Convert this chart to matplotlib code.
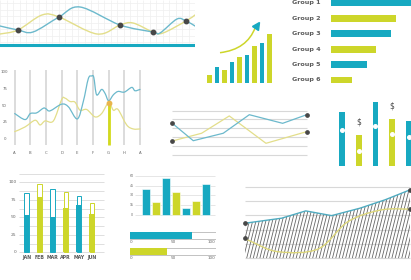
import numpy as np
import matplotlib
matplotlib.use("Agg")
import matplotlib.pyplot as plt
from matplotlib.path import Path
from matplotlib.patches import PathPatch
from matplotlib.collections import LineCollection
from matplotlib.markers import MarkerStyle
from matplotlib.transforms import Affine2D

plt.rcParams["font.family"] = ["DejaVu Sans"]

# ---------------- data ----------------
# wave strip (top left)
wave_x_teal = [0, 18, 33, 59, 80, 120, 153, 160, 177, 186, 195]
wave_teal = [22, 18, 16, 31, 41, 23, 16, 15, 29, 27, 22]
wave_x_lime = [0, 18, 42, 59, 97, 120, 133, 153, 163, 186, 195]
wave_lime = [14, 18, 33, 31, 14, 23, 25, 16, 15, 27, 33]
wave_cross_x = [18, 59, 120, 153, 186]
wave_cross_y = [18, 31, 23, 16, 27]

# growth bars
growth = [8, 16, 13, 21, 26, 28, 37, 40, 49]

# horizontal group bars
groups = ["Group 1", "Group 2", "Group 3", "Group 4", "Group 5", "Group 6"]
group_vals = [90, 65.3, 60.6, 45, 36.6, 21.3]

# smooth line chart A..A
letters = ["A", "B", "C", "D", "E", "F", "G", "H", "A"]
y_ticks4 = [0, 25, 50, 75, 100]
teal4_x = [0, 0.66, 1, 1.4, 1.83, 2, 2.26, 3, 3.43, 4, 4.38, 4.7, 4.91, 5.05,
           5.23, 5.55, 5.77, 6, 6.3, 6.6, 7, 7.47, 7.68, 8]
teal4_y = [38, 29, 38, 39, 46, 45, 42, 52, 48, 30, 56, 90, 94, 92,
           66, 74, 68, 57, 66, 71, 70, 77, 72, 74]
lime4_x = [0, 0.66, 1.3, 1.62, 1.94, 2.47, 3, 3.21, 3.53, 3.85, 4.17, 4.6,
           5.13, 5.55, 6, 6.3, 6.6, 7.15, 7.57, 8]
lime4_y = [11, 18, 28, 21, 27, 27, 59, 61, 56, 55, 43, 44,
           33, 38, 54, 43, 44, 21, 15, 15]
highlight_idx = 6

# straight line chart (middle)
teal5_x = [0, 0.156, 0.379, 0.573, 0.821, 1]
teal5_y = [3.57, 1.61, 2.45, 4.54, 3.57, 4.54]
lime5_x = [0, 0.218, 0.424, 0.697, 1]
lime5_y = [1.58, 2.45, 4.4, 1.32, 2.63]

# dollar bars
dollar_bars = [53.7, 31, 63.7, 46.7, 45.3]
dollar_dots = [36, 15, 40.3, 32, 28.7]
dollar_marked = [1, 3]

# monthly bars
months = ["JAN", "FEB", "MAR", "APR", "MAY", "JUN"]
month_filled = [53, 79, 50, 64, 68, 55]
month_total = [84, 97, 90, 86, 80, 71]
y_ticks7 = [0, 25, 50, 75, 100]

# small column chart
small_vals = [39, 20, 56, 35, 11, 21, 48]
y_ticks8 = [0, 15, 30, 45, 60]

# progress bars
progress = [72, 43]

# hatched area chart
teal10_x = [0, 0.222, 0.368, 0.525, 0.697, 0.848, 1]
teal10_y = [2.45, 2.8, 3.31, 2.98, 3.5, 4.08, 4.78]
lime10_x = [0, 0.04, 0.2, 0.443, 0.624, 0.826, 1]
lime10_y = [1.4, 1.16, 0.46, 0.65, 2.56, 3.38, 3.43]

# ---------------- style ----------------
TEAL = "#17a9c1"
LIME = "#cdd62a"
TEAL_LINE = "#6cb9cc"
LIME_LINE = "#e3de8a"
GRID = "#d8d8d8"
DOT = "#474747"
TEXT = "#5c5c5c"

W, H = 411, 280
fig = plt.figure(figsize=(W / 100, H / 100), dpi=100)
fig.patch.set_facecolor("white")


def panel(x0, y0, w, h):
    ax = fig.add_axes([x0 / W, 1 - (y0 + h) / H, w / W, h / H])
    ax.set_axis_off()
    return ax


def smooth(ax, x, y, **kw):
    pts = np.column_stack([x, y]).astype(float)
    n = len(pts)
    verts, codes = [pts[0]], [Path.MOVETO]
    for i in range(n - 1):
        p0 = pts[i - 1] if i > 0 else pts[i]
        p1, p2 = pts[i], pts[i + 1]
        p3 = pts[i + 2] if i + 2 < n else pts[i + 1]
        verts += [p1 + (p2 - p0) / 6, p2 - (p3 - p1) / 6, p2]
        codes += [Path.CURVE4] * 3
    ax.add_patch(PathPatch(Path(verts, codes), fill=False, capstyle="round", **kw))


# ---------------- wave strip ----------------
ax = panel(0, 0, 195, 48)
ax.set_xlim(0, 195)
ax.set_ylim(0, 48)
for gx in np.arange(0, 196, 6.5):
    ax.vlines(gx, 5, 48, color="#efefef", lw=0.5, zorder=0)
for gy in np.arange(6, 48, 6.5):
    ax.hlines(gy, 0, 195, color="#efefef", lw=0.5, zorder=0)
smooth(ax, wave_x_lime, wave_lime, edgecolor=LIME_LINE, lw=1.0)
smooth(ax, wave_x_teal, wave_teal, edgecolor=TEAL_LINE, lw=1.0)
ax.plot(wave_cross_x, wave_cross_y, "o", color=DOT, ms=3.2, zorder=5)
ax.axhline(3, color=TEAL, lw=2.2)

# ---------------- growth bars ----------------
ax = panel(205.75, 23, 67.5, 60)
ax.set_xlim(-0.5, 8.5)
ax.set_ylim(0, 60)
ax.bar(range(len(growth)), growth, width=0.58,
       color=[LIME if i % 2 == 0 else TEAL for i in range(len(growth))])
arrow = Path([(1.4, 30.3), (5.0, 33.5), (6.1, 55.5)],
             [Path.MOVETO, Path.CURVE3, Path.CURVE3])
ax.add_patch(PathPatch(arrow, fill=False, edgecolor=LIME, lw=1.1))
head = MarkerStyle("^", transform=Affine2D().rotate_deg(-30))
ax.plot([6.3], [58.5], marker=head, color=TEAL, ms=5, clip_on=False)

# ---------------- group bars ----------------
ax = panel(330.7, -4.7, 80.3, 92.4)
ax.set_xlim(0, 80.3)
ax.set_ylim(5.5, -0.5)
ax.barh(range(len(groups)), group_vals, height=0.45,
        color=[TEAL if i % 2 == 0 else LIME for i in range(len(groups))])
for i, g in enumerate(groups):
    ax.text(-10, i, g, ha="right", va="center", fontsize=4.6,
            fontweight="bold", color=TEXT, clip_on=False)

# ---------------- smooth line chart ----------------
ax = panel(0, 66, 145, 92)
ax.set_xlim(-0.939, 8.32)
ax.set_ylim(-28.36, 108.96)
ax.vlines(range(len(letters)), -9, 103.5, color="#d9d9d9", lw=1.3, zorder=0)
for t in y_ticks4:
    ax.text(-0.64, t, str(t), ha="center", va="center", fontsize=2.8, color="#666")
for i, lab in enumerate(letters):
    ax.text(i, -21, lab, ha="center", va="center", fontsize=2.8, color="#666")
smooth(ax, lime4_x, lime4_y, edgecolor=LIME_LINE, lw=0.9)
smooth(ax, teal4_x, teal4_y, edgecolor=TEAL_LINE, lw=0.9)
g_val = lime4_y[lime4_x.index(highlight_idx)]
ax.vlines(highlight_idx, -9, g_val, color="#d3da1c", lw=2.0, zorder=4)
ax.plot([highlight_idx], [g_val], "o", color="#e9b54c", ms=3.2, zorder=5)

# ---------------- straight line chart ----------------
ax = panel(168, 106, 143, 53)
ax.set_xlim(-0.032, 1.032)
ax.set_ylim(-0.45, 5.52)
ax.hlines(range(6), 0, 1, color=GRID, lw=0.8, zorder=0)
ax.plot(lime5_x, lime5_y, color=LIME_LINE, lw=0.9)
ax.plot(teal5_x, teal5_y, color=TEAL_LINE, lw=0.9)
ax.plot([teal5_x[0], teal5_x[-1], lime5_x[0], lime5_x[-1]],
        [teal5_y[0], teal5_y[-1], lime5_y[0], lime5_y[-1]],
        "o", color=DOT, ms=2.4, zorder=5)

# ---------------- dollar bars ----------------
ax = panel(333.9, 95, 83, 71)
ax.set_xlim(-0.5, 4.5)
ax.set_ylim(0, 71)
ax.bar(range(len(dollar_bars)), dollar_bars, width=0.34,
       color=[TEAL if i % 2 == 0 else LIME for i in range(len(dollar_bars))])
ax.plot(range(len(dollar_dots)), dollar_dots, "o", color="white", ms=2.6, ls="none")
for i in dollar_marked:
    ax.text(i, dollar_bars[i] + 13, "$", ha="center", va="center",
            fontsize=5.5, color="#4a4a4a", clip_on=False)

# ---------------- monthly bars ----------------
ax = panel(0, 170, 110, 95)
ax.set_xlim(-2.023, 6.374)
ax.set_ylim(-18.14, 117.57)
ax.hlines(np.arange(0, 113, 12.5), -0.57, 5.92, color="#dedede", lw=0.7, zorder=0)
for t in y_ticks7:
    ax.text(-0.76, t, str(t), ha="right", va="center", fontsize=3.2, color="#666")
mcol = [TEAL if i % 2 == 0 else LIME for i in range(len(months))]
ax.bar(range(len(months)), month_total, width=0.34, facecolor="white",
       edgecolor=mcol, lw=0.7, zorder=2)
ax.bar(range(len(months)), month_filled, width=0.34 + 0.05, color=mcol, zorder=3)
for i, m in enumerate(months):
    ax.text(i, -8.1, m, ha="center", va="center", fontsize=3.4,
            fontweight="bold", color=TEXT)

# ---------------- small columns ----------------
ax = panel(125, 172, 93, 46)
ax.set_xlim(-2.1, 7.2)
ax.set_ylim(-4.58, 65.65)
ax.hlines(y_ticks8, -1.1, 6.9, color="#e2e2e2", lw=0.6, zorder=0)
for t in y_ticks8:
    ax.text(-1.43, t, str(t), ha="center", va="center", fontsize=2.3, color="#666")
ax.bar(range(len(small_vals)), small_vals, width=0.75,
       color=[TEAL if i % 2 == 0 else LIME for i in range(len(small_vals))],
       edgecolor="white", lw=0.4, zorder=2)

# ---------------- progress bars ----------------
ax = panel(130, 226, 85.7, 38)
ax.set_xlim(0, 100)
ax.set_ylim(1.82, -0.58)
ax.barh(range(len(progress)), [100] * len(progress), height=0.44,
        facecolor="white", edgecolor="#b8b8b8", lw=0.6)
ax.barh(range(len(progress)), progress, height=0.44, color=[TEAL, LIME])
for i in range(len(progress)):
    for v, ha in ((0, "left"), (50, "center"), (100, "right")):
        ax.text(v, i + 0.44, str(v), ha=ha, va="center", fontsize=3.0, color="#666")

# ---------------- hatched area ----------------
ax = panel(240, 180, 175, 84)
ax.set_xlim(-0.0303, 1.0303)
ax.set_ylim(-0.398, 5.468)
ax.hlines(range(6), 0, 1, color=GRID, lw=0.8, zorder=0)
area = Path([(teal10_x[0], 0)] + list(zip(teal10_x, teal10_y)) + [(teal10_x[-1], 0), (teal10_x[0], 0)])
clip = PathPatch(area, transform=ax.transData, facecolor="none", edgecolor="none")
ax.add_patch(clip)
lean = (14.32 / 4) / 165  # x shift per unit of height
segs = [[(s, 0), (s + lean * 5.5, 5.5)] for s in np.arange(-0.15, 1.05, 0.02)]
hatch = LineCollection(segs, colors="#666666", linewidths=0.6, zorder=1)
ax.add_collection(hatch)
hatch.set_clip_path(clip)
ax.plot(teal10_x, teal10_y, color="#4fabc0", lw=1.0, zorder=3)
smooth(ax, lime10_x, lime10_y, edgecolor="#dcd679", lw=1.0, zorder=3)
ax.plot([teal10_x[0], teal10_x[-1], lime10_x[0], lime10_x[-1]],
        [teal10_y[0], teal10_y[-1], lime10_y[0], lime10_y[-1]],
        "o", color=DOT, ms=2.4, zorder=5, clip_on=False)

fig.savefig("out.png", dpi=100, facecolor="white")
